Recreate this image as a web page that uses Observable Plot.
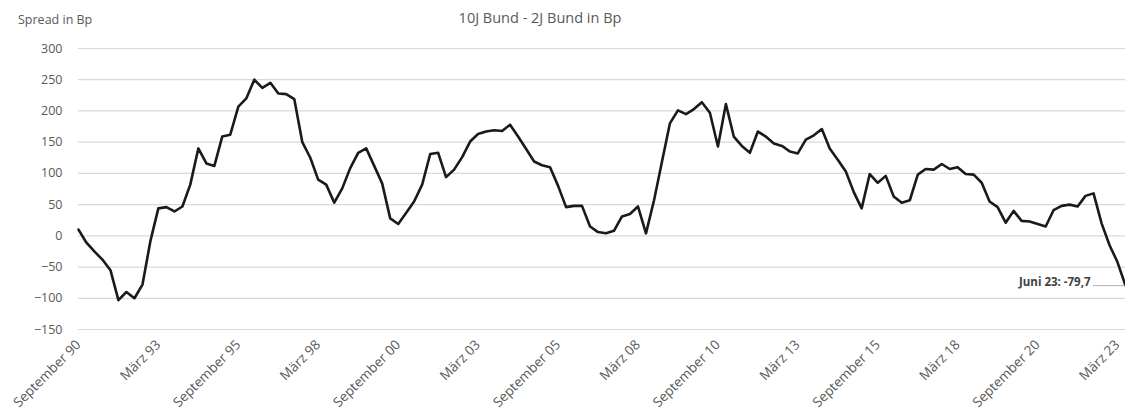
<!DOCTYPE html>
<html><head><meta charset="utf-8">
<script src="https://cdn.jsdelivr.net/npm/d3@7"></script>
<script src="https://cdn.jsdelivr.net/npm/@observablehq/plot@0.6"></script>
<style>
body{margin:0;background:#fff;font-family:"Open Sans",Lato,sans-serif;}
#wrap{position:relative;width:1125px;height:416px;overflow:hidden;}
#head{position:relative;height:36px;}
#ylab{position:absolute;left:18px;top:11px;font-size:12.5px;color:#595959;}
#title{position:absolute;left:0;width:1080px;text-align:center;top:8px;font-size:14.5px;color:#595959;}
</style></head><body>
<div id="wrap"><div id="head"><div id="ylab">Spread in Bp</div><div id="title">10J Bund - 2J Bund in Bp</div></div><div id="chart"></div></div>
<script>
// Quarterly spread 10J Bund - 2J Bund in Bp, September 1990 .. Juni 2023
const firstQuarter = "1990-09-01";
const spread = [
  10, -11, -25, -38, -55, -103, -90, -100, -78, -8,
  44, 46, 39, 47, 82, 140, 116, 112, 159, 162,
  207, 220, 250, 237, 245, 228, 227, 219, 150, 125,
  90, 82, 53, 76, 108, 133, 140, 112, 84, 28,
  19, 37, 55, 82, 131, 133, 94, 106, 126, 151,
  163, 167, 169, 168, 178, 159, 139, 119, 113, 110,
  80, 46, 48, 48, 15, 6, 4, 8, 31, 35,
  47, 4, 57, 119, 180, 201, 195, 203, 214, 197,
  143, 211, 159, 144, 133, 167, 159, 148, 144, 135,
  132, 154, 161, 171, 140, 122, 103, 70, 44, 99,
  85, 96, 63, 53, 57, 98, 107, 106, 115, 107,
  110, 99, 98, 85, 55, 46, 21, 40, 24, 23,
  19, 15, 41, 48, 50, 47, 64, 68, 20, -15,
  -42, -79.7
];
const tickDates = ["1990-09-01","1993-03-01","1995-09-01","1998-03-01","2000-09-01","2003-03-01","2005-09-01","2008-03-01","2010-09-01","2013-03-01","2015-09-01","2018-03-01","2020-09-01","2023-03-01"];
const tickLabels = ["September 90","März 93","September 95","März 98","September 00","März 03","September 05","März 08","September 10","März 13","September 15","März 18","September 20","März 23"];
const yTicks = [-150, -100, -50, 0, 50, 100, 150, 200, 250, 300];
const lastLabel = "Juni 23: -79,7";

const start = new Date(firstQuarter);
const data = spread.map((v, i) => ({date: d3.utcMonth.offset(start, 3 * i), value: v}));
const ticks = tickDates.map(d => new Date(d));
const labelOf = new Map(ticks.map((d, i) => [+d, tickLabels[i]]));
const last = data[data.length - 1];
const anchor = data[data.length - 5];

const chart = Plot.plot({
  width: 1125,
  height: 380,
  marginTop: 12,
  marginBottom: 87,
  marginLeft: 78,
  marginRight: 0,
  style: {fontFamily: "'Open Sans', Lato, sans-serif", background: "#fff", overflow: "visible"},
  x: {type: "utc", domain: [data[0].date, last.date]},
  y: {domain: [-150, 300]},
  marks: [
    Plot.gridY(yTicks, {stroke: "#d9d9d9", strokeOpacity: 1, strokeWidth: 1.2}),
    Plot.axisY({ticks: yTicks, tickSize: 0, tickPadding: 16, fontSize: 12.5, fill: "#595959", label: null}),
    Plot.axisX({ticks: ticks, tickFormat: d => labelOf.get(+d), tickSize: 0, tickPadding: 13, tickRotate: -45, textAnchor: "end", fontSize: 13.5, fill: "#595959", label: null}),
    Plot.lineY(data, {x: "date", y: "value", stroke: "#1a1a1a", strokeWidth: 2.6, strokeLinejoin: "round"}),
    Plot.ruleY([last], {x1: anchor.date, x2: last.date, y: "value", stroke: "#9a9a9a", strokeWidth: 0.8}),
    Plot.text([last], {x: anchor.date, y: "value", text: () => lastLabel, textAnchor: "end", dx: -3, dy: -3, fontSize: 11.5, fontWeight: "bold", fill: "#404040"})
  ]
});
document.getElementById("chart").appendChild(chart);
</script>
</body></html>
